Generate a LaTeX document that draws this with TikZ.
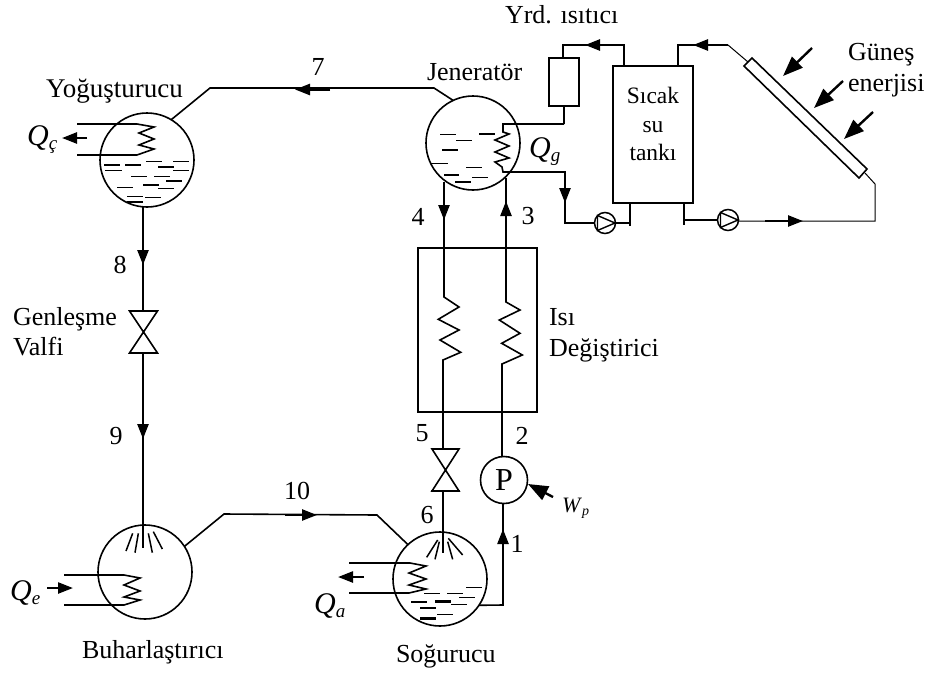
\documentclass[tikz,border=0pt]{standalone}
\usepackage{fontspec}
\setmainfont{Liberation Serif}
\usetikzlibrary{arrows.meta}
\newcommand{\QLabel}[1]{\fontsize{30}{30}\selectfont\textit{Q}\raisebox{-4pt}{\fontsize{19}{19}\selectfont\textit{#1}}}
\tikzset{
  pipe/.style={draw=black,line width=1.6pt,line join=miter},
  thin pipe/.style={draw=black,line width=1pt},
  heavy/.style={draw=black,line width=2.6pt},
  vessel/.style={circle,draw=black,line width=1.6pt,minimum size=94pt,inner sep=0pt,outer sep=0pt},
  pumpc/.style={circle,draw=black,line width=1.5pt,minimum size=21pt,inner sep=0pt,outer sep=0pt},
  unitbox/.style={draw=black,line width=1.6pt,inner sep=0pt,outer sep=0pt},
  lbl/.style={anchor=base west,inner sep=0pt,outer sep=0pt,font=\fontsize{26}{26}\selectfont},
  tanklbl/.style={anchor=base,inner sep=0pt,outer sep=0pt,font=\fontsize{23.5}{23.5}\selectfont},
  num/.style={inner sep=0pt,outer sep=0pt,font=\fontsize{26}{26}\selectfont},
  flow/.style={draw=black,line width=2.4pt,-{Triangle[length=15pt,width=11pt]}},
  sun/.style={draw=black,line width=2.4pt,-{Triangle[length=20pt,width=15pt]}},
  liquid/.style={draw=black,line width=1.5pt},
  liquid heavy/.style={draw=black,line width=2.4pt},
  valve/.style={draw=black,line width=1.6pt,line join=miter}
}
\begin{document}
\begin{tikzpicture}[x=1pt,y=-1pt]
\useasboundingbox (0,0) rectangle (928,672);
% vessels and units
\node[vessel] (yog) at (147,160) {};
\node[vessel] (jen) at (473,143) {};
\node[vessel] (buh) at (145,572) {};
\node[vessel] (sog) at (440,579) {};
\node[circle,draw=black,line width=1.6pt,minimum size=47pt,inner sep=0pt,outer sep=0pt,font=\fontsize{32}{32}\selectfont] (pmp) at (504,480) {P};
\node[unitbox,minimum width=119pt,minimum height=164pt] (hx) at (477.5,330) {};
\node[unitbox,minimum width=80pt,minimum height=137pt] (tank) at (653,134.5) {};
\node[unitbox,minimum width=30pt,minimum height=48pt] (aux) at (564,82) {};
\node[pumpc] (p1) at (605,223) {};
\node[pumpc] (p2) at (728,220) {};
\draw[line width=1.4pt] (597.5,215.5) -- (597.5,230.5) -- (615,223) -- cycle;
\draw[line width=1.4pt] (720.5,212.5) -- (720.5,227.5) -- (738,220) -- cycle;
% collector
\coordinate (c1) at (744,66); \coordinate (c2) at (752,58);
\coordinate (c3) at (867,169); \coordinate (c4) at (859,178);
\draw[line width=1.6pt] (c1) -- (c2) -- (c3) -- (c4) -- cycle;
% valves
\coordinate (v1t) at (143,311); \coordinate (v1b) at (143,353);
\draw[valve] (129.5,311) -- (157.5,311) -- (129.5,353) -- (157.5,353) -- cycle;
\coordinate (v2t) at (443,449); \coordinate (v2b) at (443,491);
\draw[valve] (432,449) -- (459,449) -- (432,491) -- (459,491) -- cycle;
\draw[heavy] (431,491) -- (460,491);
% line 7
\coordinate (a7) at (210,88); \coordinate (b7) at (434,88);
\draw[pipe] (yog.59) -- (a7) -- (b7) -- (jen.115);
\draw[heavy] (a7) -- (350,88);
\draw[flow] (330,89.5) -- (295,89.5);
% yog to valve, valve to buh
\draw[pipe] (yog.south -| v1t) -- (v1t);
\draw[flow] (143,245) -- (143,265);
\draw[pipe] (v1b) -- (buh.north -| v1b);
\draw[flow] (143,413) -- (143,439);
% line 10
\coordinate (a10) at (224,514); \coordinate (b10) at (377,515);
\draw[pipe] (buh.33) -- (a10) -- (b10) -- (sog.133);
\draw[flow] (285,515) -- (317,515);
% line 4-5-6
\coordinate (z4a) at (444,297);
\coordinate (z4b) at (443,360);
\draw[pipe] (jen.south -| z4a) ++(0,-8) -- (z4a)
  -- (459,307) -- (438.3,319.3) -- (459,330) -- (440,340) -- (460.7,352.3) -- (z4b)
  -- (v2t);
\draw[pipe] (v2b) -- (443,553);
\draw[flow] (444,200) -- (444,220);
% line 1-2-3
\coordinate (z3a) at (506,302);
\coordinate (z3b) at (502,364);
\draw[pipe] (pmp.north -| z3b) -- (z3b) -- (522.3,355) -- (501.7,343.3) -- (520,333.3) -- (499.3,320) -- (520,310) -- (z3a) -- (506,178);
\draw[flow] (506,235) -- (506,201);
\coordinate (k1) at (503,605);
\draw[pipe] (pmp.south -| k1) -- (k1) -- (sog.-34);
\draw[flow] (503,575) -- (503,529);
\draw[sun] (553,497) -- (528,484);
% generator coil and hot-water loop
\coordinate (g1) at (503,124); \coordinate (g2) at (503,172);
\coordinate (g3) at (564,124); \coordinate (g4) at (565,172); \coordinate (g5) at (565,223);
\draw[pipe] (g3) -- (g1) -- (503,132) -- (509,134) -- (495,140) -- (509,146) -- (495,152) -- (509,158) -- (495,162) -- (502,167) -- (g2) -- (g4) -- (g5) -- (p1.west);
\draw[pipe] (g3) -- (aux.south -| g3);
\draw[flow] (565,180) -- (565,203);
\coordinate (t1) at (630,223);
\draw[pipe] (p1.east) -- (t1);
\draw[pipe] (tank.south -| t1) -- (630,226);
\coordinate (a1) at (563,45); \coordinate (a2) at (624,45);
\draw[pipe] (aux.north -| a1) -- (a1) -- (a2) -- (tank.north -| a2);
\draw[flow] (610,45) -- (585,45);
\coordinate (s1) at (678,45); \coordinate (s2) at (728,45);
\draw[pipe] (tank.north -| s1) -- (s1) -- (s2);
\draw[thin pipe] (s2) -- (748,62);
\draw[flow] (715,45) -- (693,45);
\coordinate (s3) at (875,184); \coordinate (s4) at (875,221); \coordinate (s5) at (684,220);
\draw[thin pipe] (865,173) -- (s3) -- (s4) -- (p2.east |- s4);
\draw[pipe] (p2.west) -- (s5);
\draw[pipe] (tank.south -| s5) -- (684,225);
\draw[flow] (765,221) -- (803,221);
% sun rays
\draw[sun] (812,48) -- (783,76);
\draw[sun] (843,81) -- (814,108);
\draw[sun] (873,112) -- (844,139);
% condenser coil
\draw[heavy] (77,124) -- (137,124);
\draw[pipe] (137,124) -- (154,127) -- (139,133) -- (154,139) -- (139,145) -- (154,149) -- (137,155);
\draw[pipe] (137,155) -- (77,155);
\draw[flow] (87,138) -- (62,138);
% evaporator coil
\draw[heavy] (64,575) -- (124,575);
\draw[pipe] (124,575) -- (140,578) -- (124,585) -- (140,591) -- (124,597) -- (140,600) -- (124,605) -- (64,605);
\draw[flow] (47,588) -- (73,588);
% absorber coil
\draw[pipe] (349,563) -- (410,563) -- (426,566) -- (409,573) -- (426,579) -- (409,585) -- (426,589) -- (409,593);
\draw[heavy] (409,593) -- (349,593);
\draw[flow] (364,577) -- (338,577);
% liquid dashes
\foreach \xa/\xb/\yy in {313/360/345,375/423/345,438/486/335,520/567/335,474/522/351,316/366/362,520/567/362,393/441/380,462/510/380,498/546/393,429/477/405,352/399/413,474/522/416,381/429/440,435/483/443,381/429/456}
  \draw[liquid] ({\xa/3},{\yy/3+50}) -- ({\xb/3},{\yy/3+50});
\foreach \xa/\xb/\yy in {120/168/403,168/216/422,126/174/450,198/246/503,90/144/491,132/177/525,216/264/533,165/213/546}
  \draw[liquid] ({400+\xa/3},{\yy/3}) -- ({400+\xb/3},{\yy/3});
\draw[liquid heavy] (479,134) -- (495,134);
\foreach \xa/\xb/\yy in {372/420/580,441/489/580,498/546/563,477/525/593,333/381/606,453/501/614,411/459/644}
  \draw[liquid] ({300+\xa/3},{400+\yy/3}) -- ({300+\xb/3},{400+\yy/3});
\foreach \xa/\xb/\yy in {405/453/604,360/408/624,360/408/655}
  \draw[liquid heavy] ({300+\xa/3},{400+\yy/3}) -- ({300+\xb/3},{400+\yy/3});
% sprays
\draw[liquid] (143,525) -- (143,548);
\foreach \xa/\ya/\xb/\yb in {415/160/405/218,398/160/378/213,445/160/457/218,460/155/487/207}
  \draw[liquid] ({\xa/3},{480+\ya/3}) -- ({\xb/3},{480+\yb/3});
\foreach \xa/\ya/\xb/\yb in {413/420/380/472,418/425/405/478,443/425/458/478,445/415/488/465}
  \draw[liquid] ({300+\xa/3},{400+\ya/3}) -- ({300+\xb/3},{400+\yb/3});
% labels
\node[lbl,font=\fontsize{27}{27}\selectfont] (lyog) at (46,97) {Yoğuşturucu};
\node[lbl] (ljen) at (427,80) {Jeneratör};
\node[lbl] (lyrd) at (505,23) {Yrd. ısıtıcı};
\node[lbl] (lgun) at (848,60) {Güneş};
\node[lbl] (lene) at (848,91) {enerjisi};
\node[lbl] (lgen) at (13,325) {Genleşme};
\node[lbl] (lval) at (13,355) {Valfi};
\node[lbl] (lisi) at (549,325) {Isı};
\node[lbl] (ldeg) at (549,356) {Değiştirici};
\node[lbl] (lbuh) at (82,658) {Buharlaştırıcı};
\node[lbl] (lsog) at (396,662) {Soğurucu};
\node[tanklbl] (ls1) at (653,103) {Sıcak};
\node[tanklbl] (ls2) at (653,132) {su};
\node[tanklbl] (ls3) at (653,160) {tankı};
\node[num] (n7) at (318,67) {7};
\node[num] (n8) at (120,265) {8};
\node[num] (n9) at (116,436) {9};
\node[num] (n10) at (297,491) {10};
\node[num] (n4) at (418,217) {4};
\node[num] (n3) at (528,216) {3};
\node[num] (n5) at (422,433) {5};
\node[num] (n2) at (522,436) {2};
\node[num] (n6) at (427,515) {6};
\node[num] (n1) at (517,544) {1};
\node[anchor=base west,inner sep=0pt] (qc) at (27,145) {\QLabel{ç}};
\node[anchor=base west,inner sep=0pt] (qe) at (10,600) {\QLabel{e}};
\node[anchor=base west,inner sep=0pt] (qg) at (529,157) {\QLabel{g}};
\node[anchor=base west,inner sep=0pt] (qa) at (314,613) {\QLabel{a}};
\node[anchor=base west,inner sep=0pt] (wp) at (562,512) {\fontsize{22}{22}\selectfont\textit{W}\raisebox{-3pt}{\fontsize{14}{14}\selectfont\textit{p}}};
\end{tikzpicture}
\end{document}
